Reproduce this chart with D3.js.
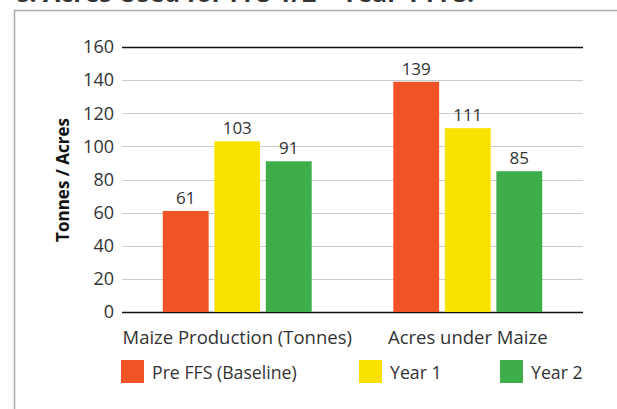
<!DOCTYPE html>
<html>
<head>
<meta charset="utf-8">
<script src="https://cdn.jsdelivr.net/npm/d3@7"></script>
<style>
  body { margin: 0; background: #fff; }
  svg { display: block; font-family: "Open Sans", "Noto Sans", sans-serif; }
</style>
</head>
<body>
<svg id="chart" width="617" height="409"></svg>
<script>
var categories = ["Maize Production (Tonnes)", "Acres under Maize"];
var seriesNames = ["Pre FFS (Baseline)", "Year 1", "Year 2"];
var preFFS = [61, 139];
var year1 = [103, 111];
var year2 = [91, 85];
var yTicks = [0, 20, 40, 60, 80, 100, 120, 140, 160];
var colors = ["#f05325", "#f9e200", "#3dae4a"];

var svg = d3.select("#chart");
var values = [preFFS, year1, year2];

// clipped title at the top of the crop
svg.append("text")
    .attr("x", 17)
    .attr("y", 1.5)
    .attr("font-size", 25)
    .attr("font-weight", "bold")
    .attr("fill", "#333")
    .text("s. Acres Used for FFS 1/2 – Year 1 FFS.");

// frame
svg.append("path")
    .attr("d", "M14.5,409 V10.5 H617")
    .attr("fill", "none")
    .attr("stroke", "#aaa")
    .attr("stroke-width", 1.5);

var plotLeft = 122, plotRight = 583, plotTop = 47, plotBottom = 312;

var y = d3.scaleLinear().domain([0, 160]).range([plotBottom, plotTop]);
var x0 = d3.scaleBand().domain(categories).range([plotLeft, plotRight])
    .paddingInner(0.354).paddingOuter(0.177);
var x1 = d3.scaleBand().domain(d3.range(seriesNames.length))
    .range([0, x0.bandwidth()]).paddingInner(0.11);

// grid lines
svg.append("g").selectAll("line")
    .data(yTicks)
    .enter().append("line")
    .attr("x1", plotLeft).attr("x2", plotRight)
    .attr("y1", function(d) { return Math.round(y(d)) + 0.5; })
    .attr("y2", function(d) { return Math.round(y(d)) + 0.5; })
    .attr("stroke", function(d) { return (d == 0 || d == 160) ? "#111" : "#ccc"; })
    .attr("stroke-width", function(d) { return (d == 0 || d == 160) ? 1.3 : 1.2; });

// y tick labels
var yAxis = svg.append("g")
    .attr("transform", "translate(" + (plotLeft - 8) + ",0)")
    .call(d3.axisLeft(y).tickValues(yTicks).tickSize(0).tickPadding(0));
yAxis.select(".domain").remove();
yAxis.selectAll("text")
    .attr("font-size", 18)
    .attr("fill", "#333")
    .attr("font-family", "\"Open Sans\", sans-serif");

svg.append("text")
    .attr("transform", "translate(69,180) rotate(-90)")
    .attr("text-anchor", "middle")
    .attr("font-size", 17)
    .attr("font-weight", "bold")
    .attr("fill", "#111")
    .text("Tonnes / Acres");

// bars
var groups = svg.append("g").selectAll("g")
    .data(categories)
    .enter().append("g")
    .attr("transform", function(d) { return "translate(" + x0(d) + ",0)"; });

groups.selectAll("rect")
    .data(function(d, i) { return values.map(function(s, k) { return { k: k, v: s[i] }; }); })
    .enter().append("rect")
    .attr("x", function(d) { return x1(d.k); })
    .attr("y", function(d) { return y(d.v); })
    .attr("width", x1.bandwidth())
    .attr("height", function(d) { return y(0) - y(d.v); })
    .attr("fill", function(d) { return colors[d.k]; });

groups.selectAll("text")
    .data(function(d, i) { return values.map(function(s, k) { return { k: k, v: s[i] }; }); })
    .enter().append("text")
    .attr("x", function(d) { return x1(d.k) + x1.bandwidth() / 2; })
    .attr("y", function(d) { return y(d.v) - 7; })
    .attr("text-anchor", "middle")
    .attr("font-size", 17)
    .attr("fill", "#333")
    .text(function(d) { return d.v; });

// category labels
svg.append("g").selectAll("text")
    .data(categories)
    .enter().append("text")
    .attr("x", function(d) { return x0(d) + x0.bandwidth() / 2; })
    .attr("y", 344)
    .attr("text-anchor", "middle")
    .attr("font-size", 18.5)
    .attr("fill", "#333")
    .text(function(d) { return d; });

// legend
var legendX = [121, 359, 500];
var legend = svg.append("g").selectAll("g")
    .data(seriesNames)
    .enter().append("g")
    .attr("transform", function(d, i) { return "translate(" + legendX[i] + ",360)"; });
legend.append("rect")
    .attr("width", 23).attr("height", 23)
    .attr("fill", function(d, i) { return colors[i]; });
legend.append("text")
    .attr("x", 31).attr("y", 19)
    .attr("font-size", 17.7)
    .attr("fill", "#333")
    .text(function(d) { return d; });
</script>
</body>
</html>
